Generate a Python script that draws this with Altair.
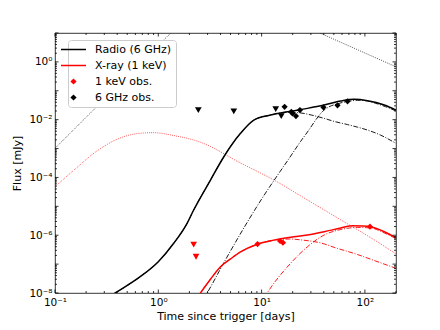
import altair as alt
import pandas as pd

# ---------------- model curves (time [days], flux [mJy]) ----------------
radio_total_t = [0.3, 0.383, 0.668, 1.0, 1.41, 1.9, 2.2, 3.2, 4.31, 6.25, 8.41, 12.2, 17.8, 27.8, 40.3, 58.5, 78.7, 106, 154, 200]
radio_total_f = [5.7e-9, 1e-8, 3.66e-8, 1.21e-7, 5.25e-7, 2.58e-6, 7.45e-6, 8.13e-5, 5.2e-4, 3.36e-3, 9.68e-3, 1.44e-2, 1.87e-2, 2.46e-2, 3.20e-2, 4.41e-2, 5.04e-2, 4.51e-2, 3.20e-2, 2.15e-2]

radio_early_t = [0.3, 0.383, 0.668, 1.0, 1.41, 1.9, 2.2, 3.2, 4.31, 6.25, 8.41, 12.2, 17.8, 23.6, 30.2, 40.3, 50.4, 67.9, 84.9, 106, 141, 200]
radio_early_f = [5.7e-9, 1e-8, 3.66e-8, 1.21e-7, 5.25e-7, 2.58e-6, 7.45e-6, 8.13e-5, 5.2e-4, 3.36e-3, 9.68e-3, 1.44e-2, 1.8e-2, 1.72e-2, 1.45e-2, 1.11e-2, 8.7e-3, 6.76e-3, 5.5e-3, 4.37e-3, 2.95e-3, 1.51e-3]

radio_late_t = [2.75, 2.97, 4.47, 6.73, 10, 14.1, 18.4, 23.9, 28.8, 33.9, 38.8, 44.7, 54.3, 67.9, 84.9, 100, 126, 158, 200]
radio_late_f = [6.3e-9, 1e-8, 1.41e-7, 1.78e-6, 1.78e-5, 1.12e-4, 4.47e-4, 1.78e-3, 4.47e-3, 1.05e-2, 1.91e-2, 2.75e-2, 3.55e-2, 4.27e-2, 4.68e-2, 4.57e-2, 3.72e-2, 2.82e-2, 2.0e-2]

radio_dotted_t = [0.1, 0.316, 1.31, 2.0, 3.55, 6.31, 10, 20, 37.4, 100, 200]
radio_dotted_f = [1.02e-3, 6.15e-2, 9.6, 40, 120, 135, 79, 26.3, 9.68, 2.03, 0.676]

xray_dotted_t = [0.1, 0.158, 0.251, 0.398, 0.631, 0.891, 1.41, 2.56, 6.25, 13.15, 27.8, 58.5, 123, 200]
xray_dotted_f = [4.79e-5, 2.0e-4, 7.94e-4, 2.09e-3, 3.31e-3, 3.55e-3, 2.82e-3, 1.66e-3, 3.16e-4, 8.13e-5, 1.66e-5, 3.39e-6, 6.92e-7, 2.24e-7]

xray_total_t = [2.40, 2.56, 3.16, 4.0, 5.01, 6.25, 9.08, 13.15, 19.1, 27.8, 40.3, 58.5, 75.9, 95.5, 114, 154, 200]
xray_total_f = [7.08e-9, 1e-8, 2.82e-8, 8.13e-8, 1.51e-7, 2.63e-7, 4.9e-7, 6.76e-7, 8.51e-7, 1.02e-6, 1.32e-6, 1.78e-6, 2.14e-6, 2.09e-6, 1.95e-6, 1.32e-6, 8.13e-7]

xray_early_t = [2.40, 2.56, 3.16, 4.0, 5.01, 6.25, 9.08, 13.15, 19.1, 23.9, 40.3, 50.4, 67.9, 84.9, 106, 141, 200]
xray_early_f = [7.08e-9, 1e-8, 2.82e-8, 8.13e-8, 1.51e-7, 2.63e-7, 4.9e-7, 6.76e-7, 7.4e-7, 6.9e-7, 5.01e-7, 3.8e-7, 2.75e-7, 2.14e-7, 1.62e-7, 1.12e-7, 7.16e-8]

xray_late_t = [10.7, 11.35, 19.1, 27.8, 40.3, 58.5, 84.9, 114, 154, 200]
xray_late_f = [7.08e-9, 1e-8, 1.07e-7, 3.98e-7, 1.02e-6, 1.58e-6, 1.86e-6, 1.78e-6, 1.20e-6, 7.59e-7]

# ---------------- observations ----------------
radio_obs_t = [16.7, 19.4, 19.9, 21.5, 23.5, 39.7, 54.3, 67.9]
radio_obs_f = [0.0279, 0.0187, 0.0165, 0.0133, 0.0215, 0.0267, 0.0313, 0.043]
radio_ul_t = [2.44, 5.38, 13.7, 15.5]
radio_ul_f = [0.0215, 0.0194, 0.0233, 0.0133]

xray_obs_t = [9.14, 15.1, 16.1, 112]
xray_obs_f = [4.95e-7, 6.3e-7, 5.5e-7, 1.97e-6]
xray_ul_t = [2.2, 2.32]
xray_ul_f = [4.7e-7, 1.8e-7]

series_names = ["Radio (6 GHz)", "X-ray (1 keV)", "1 keV obs.", "6 GHz obs."]
series_colors = ["#000000", "#ff0000", "#ff0000", "#000000"]

# ---------------- ticks ----------------
x_major = [0.1, 1, 10, 100]
x_labels = ["10\u207b\u00b9", "10\u2070", "10\u00b9", "10\u00b2"]
x_minor = [0.2, 0.3, 0.4, 0.5, 0.6, 0.7, 0.8, 0.9, 2, 3, 4, 5, 6, 7, 8, 9,
           20, 30, 40, 50, 60, 70, 80, 90, 200]
y_major = [1e-8, 1e-7, 1e-6, 1e-5, 1e-4, 1e-3, 1e-2, 1e-1, 1, 10]
y_label_vals = [1e-8, 1e-6, 1e-4, 1e-2, 1]
y_labels = ["10\u207b\u2078", "10\u207b\u2076", "10\u207b\u2074", "10\u207b\u00b2", "10\u2070"]
y_minor = [m * 10.0 ** k for k in range(-8, 1) for m in range(2, 10)]

W, H = 341, 260
FONT = "DejaVu Sans"

xs = alt.Scale(type="log", domain=[0.1, 200], nice=False)
ys = alt.Scale(type="log", domain=[1e-8, 10], nice=False)

x_expr = "[" + ",".join("'%s'" % s for s in x_labels) + "][round(log(datum.value)/LN10)+1]"
y_arr = ["''"] * 9
for i, s in enumerate(y_labels):
    y_arr[2 * i] = "'%s'" % s
y_expr = "[" + ",".join(y_arr) + "][round(log(datum.value)/LN10)+8]"

x_axis = alt.Axis(values=x_major, labelExpr=x_expr, ticks=False, domain=False, grid=False,
                  labelPadding=4, labelFontSize=10.5, titleFontSize=11, titleFontWeight="normal",
                  titlePadding=3, labelFlush=False, labelColor="black", titleColor="black",
                  labelFont=FONT, titleFont=FONT)
y_axis = alt.Axis(values=y_label_vals, labelExpr=y_expr, ticks=False, domain=False, grid=False,
                  labelPadding=3, labelFontSize=10.5, titleFontSize=11, titleFontWeight="normal",
                  titlePadding=6, labelColor="black", titleColor="black",
                  labelFont=FONT, titleFont=FONT)

XT = "Time since trigger [days]"
YT = "Flux [mJy]"


def X(field="t"):
    return alt.X(field + ":Q", scale=xs, axis=x_axis, title=XT)


def Y(field="f"):
    return alt.Y(field + ":Q", scale=ys, axis=y_axis, title=YT)


def curve(t, f, color, width, dash=None):
    df = pd.DataFrame({"t": t, "f": f})
    kw = dict(color=color, strokeWidth=width, clip=True, interpolate="monotone")
    if dash:
        kw["strokeDash"] = dash
    return alt.Chart(df).mark_line(**kw).encode(x=X(), y=Y())


DOT = [0.8, 1.3]
DASHDOT = [5, 1.6, 1, 1.6]

layers = [
    curve(radio_dotted_t, radio_dotted_f, "black", 0.8, DOT),
    curve(xray_dotted_t, xray_dotted_f, "#ff0000", 0.8, DOT),
    curve(radio_early_t, radio_early_f, "black", 0.9, DASHDOT),
    curve(radio_late_t, radio_late_f, "black", 0.9, DASHDOT),
    curve(xray_early_t, xray_early_f, "#ff0000", 0.9, DASHDOT),
    curve(xray_late_t, xray_late_f, "#ff0000", 0.9, DASHDOT),
    curve(radio_total_t, radio_total_f, "black", 1.5),
    curve(xray_total_t, xray_total_f, "#ff0000", 1.5),
]

# upper limits
for t, f, c in [(radio_ul_t, radio_ul_f, "black"), (xray_ul_t, xray_ul_f, "#ff0000")]:
    layers.append(
        alt.Chart(pd.DataFrame({"t": t, "f": f})).mark_point(
            shape="triangle-down", filled=True, size=45, opacity=1, color=c, strokeWidth=0
        ).encode(x=X(), y=Y())
    )

# detections (also drives the legend)
obs_df = pd.concat([
    pd.DataFrame({"t": xray_obs_t, "f": xray_obs_f, "series": "1 keV obs."}),
    pd.DataFrame({"t": radio_obs_t, "f": radio_obs_f, "series": "6 GHz obs."}),
])
LINE_PATH = "M-2.5,-0.15H2.5V0.15H-2.5Z"
DIAMOND_PATH = "M0,-0.62L0.62,0L0,0.62L-0.62,0Z"
legend = alt.Legend(title=None, orient="none", legendX=13, legendY=7, fillColor="white",
                    strokeColor="#cccccc", cornerRadius=3, padding=4,
                    symbolSize=100, symbolStrokeWidth=0, symbolOffset=-4, labelOffset=16,
                    labelFontSize=11, labelFont=FONT, labelColor="black", rowPadding=4)
layers.append(
    alt.Chart(obs_df).mark_point(filled=True, size=100, opacity=1, strokeWidth=0).encode(
        x=X(), y=Y(),
        color=alt.Color("series:N", scale=alt.Scale(domain=series_names, range=series_colors), legend=legend),
        shape=alt.Shape("series:N", scale=alt.Scale(domain=series_names,
                                                   range=[LINE_PATH, LINE_PATH, DIAMOND_PATH, DIAMOND_PATH]),
                        legend=legend),
    )
)


# inward ticks on all four sides
def xticks(vals, length):
    d = pd.DataFrame({"t": vals})
    base = alt.Chart(d).mark_rule(color="black", strokeWidth=0.8)
    return [base.encode(x=X(), y=alt.value(H), y2=alt.value(H - length)),
            base.encode(x=X(), y=alt.value(0), y2=alt.value(length))]


def yticks(vals, length):
    d = pd.DataFrame({"f": vals})
    base = alt.Chart(d).mark_rule(color="black", strokeWidth=0.8)
    return [base.encode(y=Y(), x=alt.value(0), x2=alt.value(length)),
            base.encode(y=Y(), x=alt.value(W), x2=alt.value(W - length))]


layers += xticks(x_major, 3.5) + xticks(x_minor, 2) + yticks(y_major, 3.5) + yticks(y_minor, 2)

chart = alt.layer(*layers).properties(
    width=W, height=H,
    padding={"left": 47, "top": 25, "right": 36, "bottom": 36},
    autosize=alt.AutoSizeParams(type="none"),
).configure(font=FONT).configure_view(stroke="black", strokeWidth=0.8)

chart.save("out.html", embed_options={"renderer": "svg", "actions": False})
